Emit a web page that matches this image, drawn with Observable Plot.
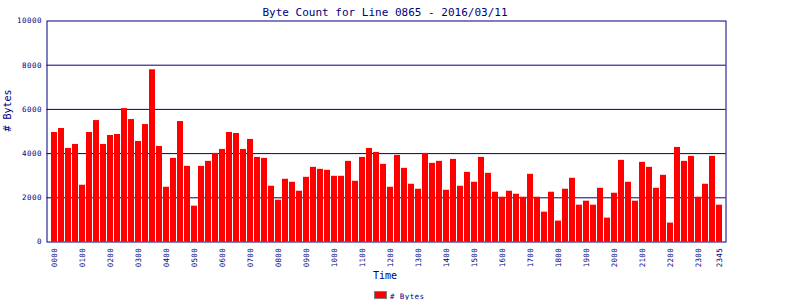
<!DOCTYPE html>
<html>
<head>
<meta charset="utf-8">
<script src="https://cdn.jsdelivr.net/npm/d3@7"></script>
<script src="https://cdn.jsdelivr.net/npm/@observablehq/plot@0.6"></script>
<style>
  html, body { margin: 0; padding: 0; background: #ffffff; }
  #chart svg { display: block; }
</style>
</head>
<body>
<div id="chart"></div>
<script>
const titleText = "Byte Count for Line 0865 - 2016/03/11";
const yLabel = "# Bytes";
const xLabel = "Time";
const legendLabel = "# Bytes";

const times = [
  "0000","0015","0030","0045","0100","0115","0130","0145",
  "0200","0215","0230","0245","0300","0315","0330","0345",
  "0400","0415","0430","0445","0500","0515","0530","0545",
  "0600","0615","0630","0645","0700","0715","0730","0745",
  "0800","0815","0830","0845","0900","0915","0930","0945",
  "1000","1015","1030","1045","1100","1115","1130","1145",
  "1200","1215","1230","1245","1300","1315","1330","1345",
  "1400","1415","1430","1445","1500","1515","1530","1545",
  "1600","1615","1630","1645","1700","1715","1730","1745",
  "1800","1815","1830","1845","1900","1915","1930","1945",
  "2000","2015","2030","2045","2100","2115","2130","2145",
  "2200","2215","2230","2245","2300","2315","2330","2345"
];

const bytes = [
  4955,5135,4234,4414,2568,4955,5495,4414,4820,4865,
  6036,5541,4550,5315,7793,4324,2477,3784,5450,3423,
  1622,3423,3649,4009,4189,4955,4910,4189,4640,3829,
  3784,2523,1892,2838,2703,2297,2928,3378,3288,3243,
  2973,2973,3649,2748,3829,4234,4054,3514,2477,3919,
  3333,2613,2387,4009,3559,3649,2342,3739,2523,3153,
  2703,3829,3108,2252,2027,2297,2162,2027,3063,2027,
  1351,2252,946,2387,2883,1667,1847,1667,2432,1081,
  2207,3694,2703,1847,3604,3378,2432,3018,856,4279,
  3649,3874,2027,2613,3874,1667
];

const xTickLabels = [
  "0000","0100","0200","0300","0400","0500","0600","0700",
  "0800","0900","1000","1100","1200","1300","1400","1500",
  "1600","1700","1800","1900","2000","2100","2200","2300","2345"
];
const yTicks = [0, 2000, 4000, 6000, 8000, 10000];
const gridValues = [2000, 4000, 6000, 8000];

const table = times.map((t, i) => ({time: t, bytes: bytes[i]}));

const navy = "#000080";
const mono = "DejaVu Sans Mono, monospace";

const chart = Plot.plot({
  width: 800,
  height: 300,
  marginTop: 20.5,
  marginBottom: 58.5,
  marginLeft: 46.5,
  marginRight: 74.5,
  style: {fontFamily: mono, color: navy, background: "#ffffff", overflow: "visible"},
  x: {type: "band", domain: times, paddingInner: 0.143, paddingOuter: 0, insetLeft: 4.5, insetRight: 3.5, align: 0.5},
  y: {domain: [0, 10000]},
  marks: [
    Plot.ruleY(gridValues, {stroke: navy, strokeWidth: 1}),
    Plot.barY(table, {x: "time", y: "bytes", fill: "#ff0000"}),
    Plot.frame({stroke: navy, strokeWidth: 1}),
    Plot.axisY({ticks: yTicks, tickSize: 0, tickPadding: 5, fontSize: 7.5, label: null, tickFormat: d => String(d), fill: navy}),
    Plot.axisX({ticks: xTickLabels, tickRotate: -90, tickSize: 0, tickPadding: 6, fontSize: 7.5, label: null, fill: navy}),
    Plot.text([yLabel], {frameAnchor: "left", dx: -39, rotate: -90, fontSize: 10, fill: navy, ariaLabel: "ylabel"}),
    Plot.text([xLabel], {frameAnchor: "bottom", dx: -1.5, dy: 37, fontSize: 10, fill: navy, ariaLabel: "xlabel"}),
    Plot.text([titleText], {frameAnchor: "top", dx: -1.5, dy: -13, fontSize: 11, fill: navy, ariaLabel: "title"})
  ]
});

const svg = d3.select(chart);
svg.selectAll('g[aria-label="title"] text').attr("letter-spacing", "1.3px");
svg.selectAll('g[aria-label="y-axis tick label"] text').attr("letter-spacing", "0.5px");
svg.selectAll('g[aria-label="x-axis tick label"] text').attr("letter-spacing", "0.3px");

// legend
const lg = svg.append("g").attr("aria-label", "legend");
lg.append("rect")
  .attr("x", 374.5).attr("y", 291.5).attr("width", 12).attr("height", 7)
  .attr("fill", "#ff0000").attr("stroke", "#808080").attr("stroke-width", 1);
lg.append("text")
  .attr("x", 390).attr("y", 298.5)
  .attr("text-anchor", "start")
  .attr("font-family", mono).attr("font-size", 7.5).attr("letter-spacing", "0.4px")
  .attr("fill", navy).text(legendLabel);

document.getElementById("chart").appendChild(chart);
</script>
</body>
</html>
